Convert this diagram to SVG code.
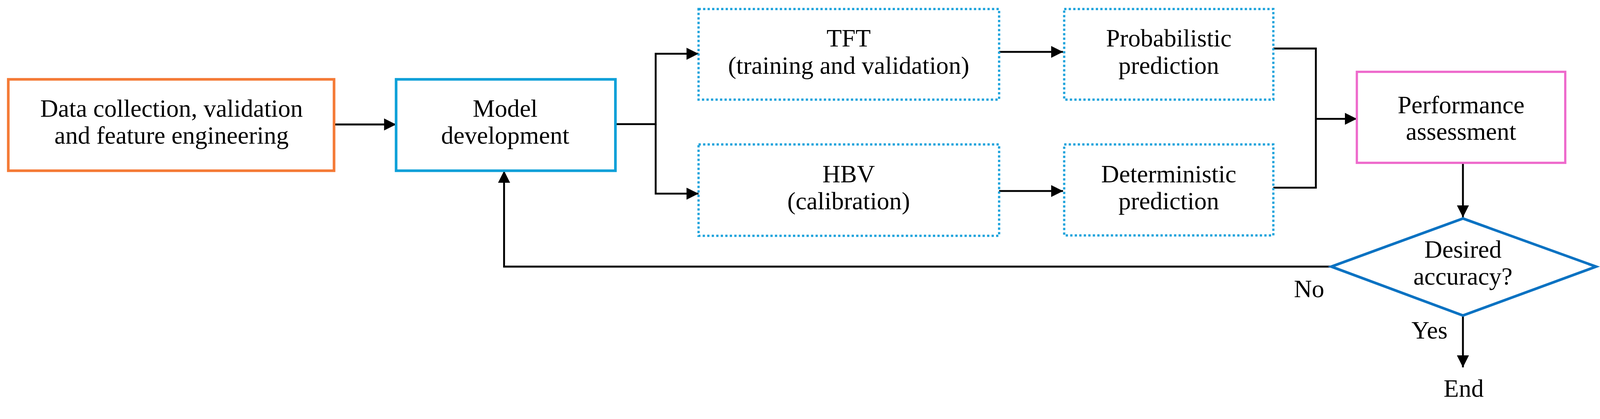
<svg xmlns="http://www.w3.org/2000/svg" width="4250" height="1073" viewBox="0 0 4250 1073">
<style>
text{font-family:"Liberation Serif",serif;font-size:66px;fill:#000;text-anchor:middle}
.dot{fill:none;stroke:#1CA3DC;stroke-width:6;stroke-dasharray:6 6}
.c{fill:none;stroke:#000;stroke-width:5}
</style>
<defs>
<marker id="b" viewBox="0 0 10 10" refX="10" refY="5" markerWidth="32" markerHeight="32" markerUnits="userSpaceOnUse" orient="auto">
<path d="M0,0L10,5L0,10z" fill="#000"/>
</marker>
</defs>
<g transform="scale(0.963)">
<g id="connectors">
<path class="c" d="M888,331H1053" marker-end="url(#b)"/>
<path class="c" d="M1636,330H1743V143H1857" marker-end="url(#b)"/>
<path class="c" d="M1743,330V515H1857" marker-end="url(#b)"/>
<path class="c" d="M2656,138H2826" marker-end="url(#b)"/>
<path class="c" d="M2656,508H2826" marker-end="url(#b)"/>
<path class="c" d="M3385,129H3498V499H3385"/>
<path class="c" d="M3498,316H3607" marker-end="url(#b)"/>
<path class="c" d="M3889,433V578" marker-end="url(#b)"/>
<path class="c" d="M3889,839V977" marker-end="url(#b)"/>
<path class="c" d="M3539,709H1340V454" marker-end="url(#b)"/>
</g>
<g id="data"><rect x="22" y="211" width="866" height="243" fill="#fff" stroke="#F47A36" stroke-width="7"/>
<text x="456" y="310">Data collection, validation</text><text x="456" y="382">and feature engineering</text></g>
<g id="model"><rect x="1053" y="211" width="583" height="243" fill="#fff" stroke="#0DA0D8" stroke-width="7"/>
<text x="1343" y="310">Model</text><text x="1343" y="382">development</text></g>
<g id="tft"><rect class="dot" x="1857" y="24" width="799" height="241"/>
<text x="2256" y="124">TFT</text><text x="2256" y="196">(training and validation)</text></g>
<g id="hbv"><rect class="dot" x="1857" y="384" width="799" height="243"/>
<text x="2256" y="485">HBV</text><text x="2256" y="557">(calibration)</text></g>
<g id="prob"><rect class="dot" x="2829" y="24" width="556" height="241"/>
<text x="3107" y="124">Probabilistic</text><text x="3107" y="196">prediction</text></g>
<g id="det"><rect class="dot" x="2829" y="384" width="556" height="242"/>
<text x="3107" y="485">Deterministic</text><text x="3107" y="557">prediction</text></g>
<g id="perf"><rect x="3607" y="191" width="554" height="242" fill="#fff" stroke="#EE6ACC" stroke-width="6"/>
<text x="3884" y="301">Performance</text><text x="3884" y="372">assessment</text></g>
<g id="decision"><path d="M3889,581L4243,709L3889,839L3539,709Z" fill="#fff" stroke="#0A72C2" stroke-width="7"/>
<text x="3889" y="685">Desired</text><text x="3889" y="757">accuracy?</text></g>
<g id="labels"><text x="3480" y="790">No</text><text x="3800" y="900">Yes</text></g>
<g id="end"><text x="3891" y="1055">End</text></g>
</g>
</svg>
